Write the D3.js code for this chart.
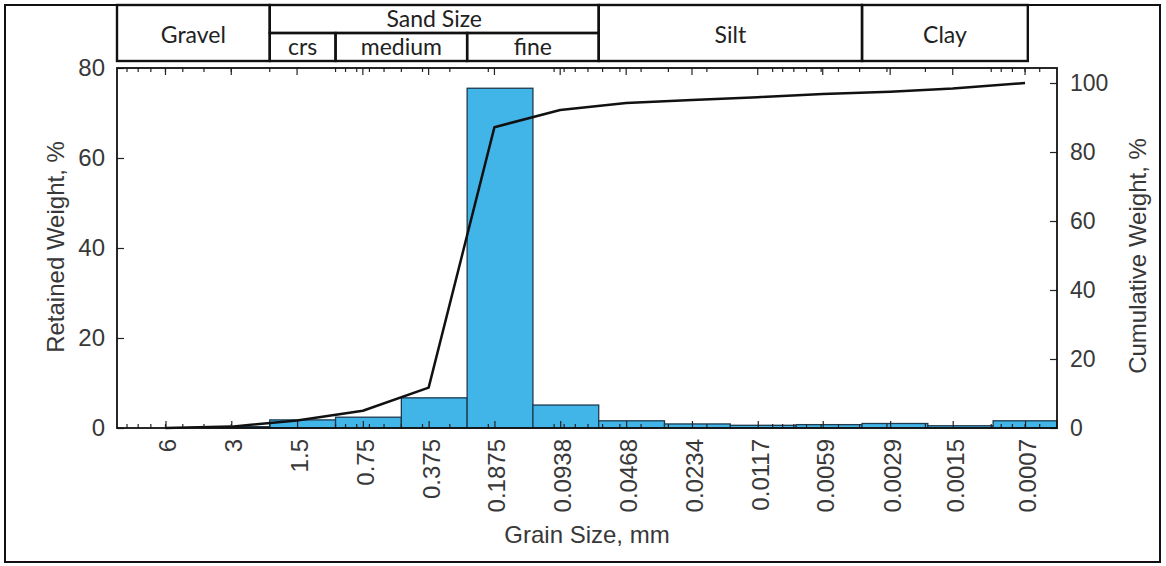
<!DOCTYPE html>
<html>
<head>
<meta charset="utf-8">
<script src="https://cdn.jsdelivr.net/npm/d3@7"></script>
<style>
  html, body { margin: 0; padding: 0; background: #fff; }
  svg { display: block; }
</style>
</head>
<body>
<svg id="chart" width="1166" height="566"></svg>
<script>
// ---- data ----
const sizeLabels = ["6","3","1.5","0.75","0.375","0.1875","0.0938","0.0468","0.0234","0.0117","0.0059","0.0029","0.0015","0.0007"];
const binUpper = [8, 4, 2, 1, 0.5, 0.25, 0.125, 0.0625, 0.03125, 0.015625, 0.0078, 0.0039, 0.00195, 0.00098];
const binLower = [4, 2, 1, 0.5, 0.25, 0.125, 0.0625, 0.03125, 0.015625, 0.0078, 0.0039, 0.00195, 0.00098, 0.00049];
const retained = [0, 0.3, 1.8, 2.4, 6.7, 75.5, 5.1, 1.6, 0.9, 0.6, 0.75, 1.0, 0.5, 1.6];
const cumulative = [0, 0.4, 2.2, 5.0, 11.7, 87.2, 92.2, 94.2, 95.1, 95.9, 96.8, 97.5, 98.4, 100];
const leftTicks = [0, 20, 40, 60, 80];
const rightTicks = [0, 20, 40, 60, 80, 100];
const classNames = ["Gravel", "Sand Size", "crs", "medium", "fine", "Silt", "Clay"];
const classFrom  = [10, 2, 2, 1, 0.25, 0.0625, 0.0039];
const classTo    = [2, 0.0625, 1, 0.25, 0.0625, 0.0039, 0.00068];
const classRow   = ["full", "top", "bottom", "bottom", "bottom", "full", "full"];

// ---- layout ----
const svg = d3.select("#chart");
const L = 117, R = 1057, T = 68, B = 428;
const hdrTop = 5, hdrMid = 33, hdrBot = 61;
const textCol = "#383838";
const font = "'Liberation Sans', Arial, sans-serif";

const x = d3.scaleLog().domain([10, 0.0005]).range([L, R]).clamp(true);
const yL = d3.scaleLinear().domain([0, 80]).range([B, T]);
const yR = d3.scaleLinear().domain([0, 104.35]).range([B, T]);

// outer frame
svg.append("rect").attr("x", 5).attr("y", 5).attr("width", 1155).attr("height", 557)
  .attr("fill", "none").attr("stroke", "#111").attr("stroke-width", 2);

// header table
const hdr = svg.append("g");
classNames.forEach((n, i) => {
  const x0 = x(classFrom[i]), x1 = x(classTo[i]);
  const y0 = classRow[i] === "bottom" ? hdrMid : hdrTop;
  const y1 = classRow[i] === "top" ? hdrMid : hdrBot;
  hdr.append("rect").attr("x", x0).attr("y", y0).attr("width", x1 - x0).attr("height", y1 - y0)
    .attr("fill", "none").attr("stroke", "#111").attr("stroke-width", 2.4);
  const ty = classRow[i] === "full" ? 43 : (classRow[i] === "top" ? 27 : 55);
  hdr.append("text").attr("x", (x0 + x1) / 2).attr("y", ty)
    .attr("text-anchor", "middle").attr("font-family", "Lato, 'Open Sans', sans-serif")
    .attr("font-size", 23).attr("fill", "#222").text(n);
});

// bars
svg.append("g").selectAll("rect").data(retained).join("rect")
  .attr("x", (d, i) => x(binUpper[i]))
  .attr("width", (d, i) => x(binLower[i]) - x(binUpper[i]))
  .attr("y", d => yL(d))
  .attr("height", d => B - yL(d))
  .attr("fill", "#41b5e8").attr("stroke", "#1d3a4f").attr("stroke-width", 1.3);

// cumulative line
const line = d3.line().x((d, i) => x(+sizeLabels[i])).y(d => yR(d));
svg.append("path").datum(cumulative).attr("d", line)
  .attr("fill", "none").attr("stroke", "#111").attr("stroke-width", 2.5).attr("stroke-linejoin", "round");

// minor log ticks top & bottom
const minor = x.ticks().filter(v => x(v) > L + 1 && x(v) < R - 1);
const tg = svg.append("g").attr("stroke", "#222").attr("stroke-width", 1.2);
minor.forEach(v => {
  tg.append("line").attr("x1", x(v)).attr("x2", x(v)).attr("y1", T).attr("y2", T + 4);
  tg.append("line").attr("x1", x(v)).attr("x2", x(v)).attr("y1", B).attr("y2", B - 4);
});
sizeLabels.forEach(s => {
  tg.append("line").attr("x1", x(+s)).attr("x2", x(+s)).attr("y1", T).attr("y2", T + 7);
});

// bottom axis (label ticks, inward)
const xb = svg.append("g").attr("transform", `translate(0,${B})`)
  .call(d3.axisBottom(x).tickValues(sizeLabels.map(Number)).tickFormat((d, i) => sizeLabels[i])
    .tickSizeInner(-7).tickSizeOuter(0).tickPadding(0));
xb.select(".domain").remove();
xb.selectAll(".tick line").attr("stroke", "#222").attr("stroke-width", 1.2);
xb.selectAll(".tick text")
  .attr("transform", "rotate(-90)").attr("text-anchor", "end")
  .attr("x", -11).attr("y", 2).attr("dy", "0.35em")
  .attr("font-family", font).attr("font-size", 24).attr("fill", textCol);

// left axis
const ya = svg.append("g").attr("transform", `translate(${L},0)`)
  .call(d3.axisLeft(yL).tickValues(leftTicks).tickSizeInner(-7).tickSizeOuter(0).tickPadding(12));
ya.select(".domain").remove();
ya.selectAll(".tick line").attr("stroke", "#222").attr("stroke-width", 1.2);
ya.selectAll(".tick text").attr("font-family", font)
  .attr("font-size", 24).attr("fill", textCol);

// right axis
const yb = svg.append("g").attr("transform", `translate(${R},0)`)
  .call(d3.axisRight(yR).tickValues(rightTicks).tickSizeInner(-7).tickSizeOuter(0).tickPadding(13));
yb.select(".domain").remove();
yb.selectAll(".tick line").attr("stroke", "#222").attr("stroke-width", 1.2);
yb.selectAll(".tick text").attr("font-family", font)
  .attr("font-size", 23).attr("fill", textCol);

// plot frame
svg.append("rect").attr("x", L).attr("y", T).attr("width", R - L).attr("height", B - T)
  .attr("fill", "none").attr("stroke", "#111").attr("stroke-width", 1.8);

// axis titles
svg.append("text").attr("transform", "translate(64,247) rotate(-90)")
  .attr("text-anchor", "middle").attr("font-family", font)
  .attr("font-size", 24).attr("fill", textCol).text("Retained Weight, %");
svg.append("text").attr("transform", "translate(1146,256) rotate(-90)")
  .attr("text-anchor", "middle").attr("font-family", font)
  .attr("font-size", 24).attr("fill", textCol).text("Cumulative Weight, %");
svg.append("text").attr("x", 587).attr("y", 543)
  .attr("text-anchor", "middle").attr("font-family", font)
  .attr("font-size", 24).attr("fill", textCol).text("Grain Size, mm");
</script>
</body>
</html>
